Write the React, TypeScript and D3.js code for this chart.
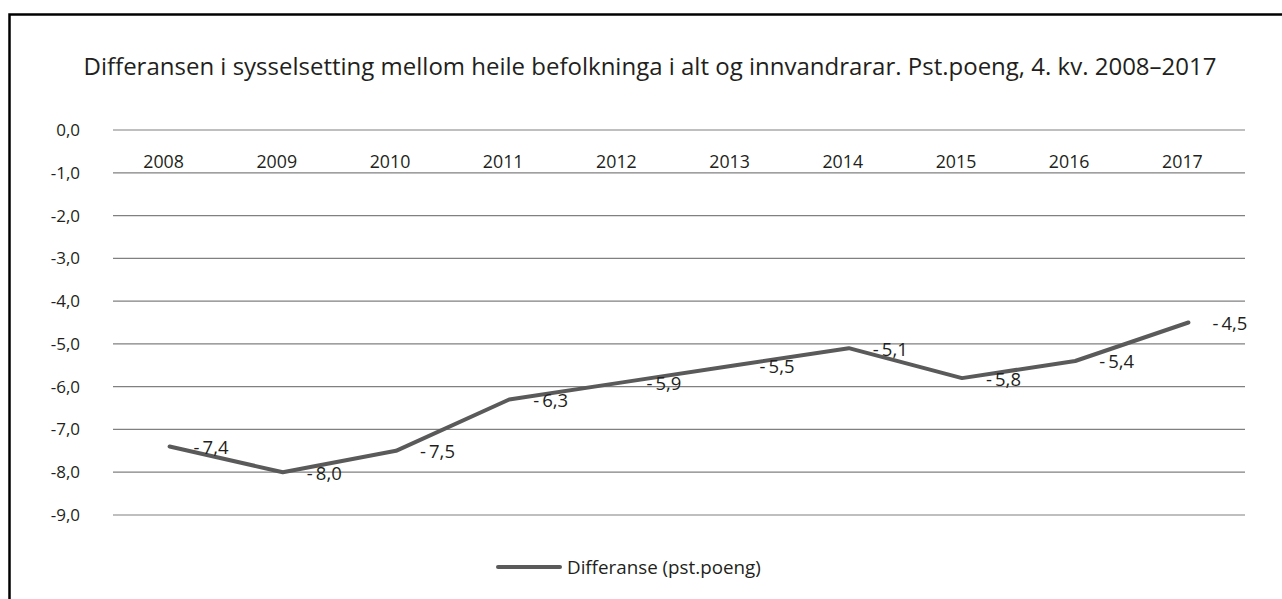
import React, { useEffect, useRef } from "react";
import * as d3 from "d3";

const years: string[] = ["2008", "2009", "2010", "2011", "2012", "2013", "2014", "2015", "2016", "2017"];
const values: number[] = [-7.4, -8.0, -7.5, -6.3, -5.9, -5.5, -5.1, -5.8, -5.4, -4.5];
const yTicks: number[] = [0, -1, -2, -3, -4, -5, -6, -7, -8, -9];
const title = "Differansen i sysselsetting mellom heile befolkninga i alt og innvandrarar. Pst.poeng, 4. kv. 2008–2017";
const seriesName = "Differanse (pst.poeng)";

const W = 1282;
const H = 599;
const FONT = "'Open Sans', 'Noto Sans', sans-serif";
const LINE_COLOR = "#5a5a5a";
const GRID_COLOR = "#808080";
const TEXT_COLOR = "#231f20";

const fmt = (v: number) => d3.format(".1f")(v).replace(".", ",").replace("−", "-");
const fmtLabel = (v: number) => fmt(v).replace("-", "-\u2009");

export default function App() {
  const ref = useRef<SVGSVGElement>(null);

  useEffect(() => {
    const svg = d3.select(ref.current);
    svg.selectAll("*").remove();

    // Border
    svg.append("rect")
      .attr("x", 9.5).attr("y", 14.5)
      .attr("width", W + 20).attr("height", H + 20)
      .attr("fill", "none").attr("stroke", "#000").attr("stroke-width", 2.5);

    // Title
    svg.append("text")
      .attr("x", 650).attr("y", 75)
      .attr("text-anchor", "middle")
      .attr("font-family", FONT).attr("font-size", 24)
      .attr("fill", TEXT_COLOR)
      .text(title);

    const x = d3.scaleBand<string>().domain(years).range([113, 1245]);
    const y = d3.scaleLinear().domain([-9, 0]).range([515, 130]);

    // Gridlines
    svg.append("g").selectAll("line").data(yTicks).join("line")
      .attr("x1", 113).attr("x2", 1245)
      .attr("y1", d => y(d)).attr("y2", d => y(d))
      .attr("stroke", GRID_COLOR).attr("stroke-width", 1.2);

    // Y labels
    svg.append("g").selectAll("text").data(yTicks).join("text")
      .attr("x", 80).attr("y", d => y(d))
      .attr("dy", "0.35em")
      .attr("text-anchor", "end")
      .attr("font-family", FONT).attr("font-size", 17)
      .attr("fill", TEXT_COLOR)
      .text(d => fmt(d));

    // Category labels (axis at 0)
    svg.append("g").selectAll("text").data(years).join("text")
      .attr("x", d => (x(d) as number) + x.bandwidth() / 2 - 6)
      .attr("y", y(0) + 38)
      .attr("text-anchor", "middle")
      .attr("font-family", FONT).attr("font-size", 17.8)
      .attr("fill", TEXT_COLOR)
      .text(d => d);

    // Line
    const line = d3.line<number>()
      .x((_, i) => (x(years[i]) as number) + x.bandwidth() / 2)
      .y(d => y(d));
    svg.append("path")
      .datum(values)
      .attr("d", line)
      .attr("fill", "none")
      .attr("stroke", LINE_COLOR)
      .attr("stroke-width", 4)
      .attr("stroke-linejoin", "round")
      .attr("stroke-linecap", "round");

    // Data labels
    svg.append("g").selectAll("text").data(values).join("text")
      .attr("x", (_, i) => (x(years[i]) as number) + x.bandwidth() / 2 + 24)
      .attr("y", d => y(d) + 1)
      .attr("dy", "0.35em")
      .attr("font-family", FONT).attr("font-size", 18.5)
      .attr("fill", TEXT_COLOR)
      .text(d => fmtLabel(d));

    // Legend
    svg.append("line")
      .attr("x1", 498).attr("x2", 560).attr("y1", 567).attr("y2", 567)
      .attr("stroke", LINE_COLOR).attr("stroke-width", 4)
      .attr("stroke-linecap", "round");
    svg.append("text")
      .attr("x", 567).attr("y", 567)
      .attr("dy", "0.35em")
      .attr("font-family", FONT).attr("font-size", 18.8)
      .attr("fill", TEXT_COLOR)
      .text(seriesName);
  }, []);

  return (
    <svg
      ref={ref}
      width={W}
      height={H}
      style={{ position: "absolute", left: 0, top: 0, background: "#fff" }}
    />
  );
}
